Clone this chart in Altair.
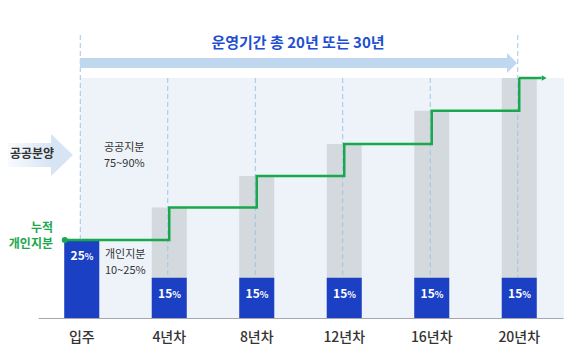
import altair as alt
import pandas as pd

# ---- data ----
categories = ["입주", "4년차", "8년차", "12년차", "16년차", "20년차"]
private_share = [25, 15, 15, 15, 15, 15]            # label (%) of each private purchase
bar_height = [32.5, 16.8, 16.8, 16.8, 16.8, 16.8]    # displayed height of the blue bars
cumulative = [32.5, 46.0, 59.2, 72.5, 86.4, 100.0]   # displayed cumulative private share

title_text = "운영기간 총 20년 또는 30년"
FONT = "Noto Sans CJK KR"

df = pd.DataFrame({
    "cat": categories,
    "share": private_share,
    "num": [str(v) for v in private_share],
    "blue": bar_height,
    "cum": cumulative,
})
one = pd.DataFrame({"k": [0]})

W, H = 525, 240
BLUE = "#1c40c4"
GREEN = "#1aa84c"
GRAY = "#d4d9dd"
BG = "#eef3fa"
DASH = "#9ec5ea"

xs = alt.X("cat:N", sort=categories,
           scale=alt.Scale(paddingInner=0.6, paddingOuter=0.3),
           axis=alt.Axis(title=None, labelAngle=0, ticks=False, domainColor="#a4a8ad",
                         domainWidth=1, labelFont=FONT, labelFontSize=14, labelColor="#333333",
                         labelFontWeight=500, labelPadding=12))
ys = alt.Y("blue:Q", scale=alt.Scale(domain=[0, 100]), axis=None)

base = alt.Chart(df)

background = alt.Chart(one).mark_rect(color=BG).encode(
    x=alt.value(42), x2=alt.value(W + 1), y=alt.value(0), y2=alt.value(H))

gray = base.mark_bar(color=GRAY).encode(x=xs, y=alt.Y("cum:Q", scale=alt.Scale(domain=[0, 100]), axis=None))

rules_mid = base.transform_filter(
    alt.FieldOneOfPredicate(field="cat", oneOf=categories[1:-1])
).mark_rule(color=DASH, strokeDash=[5, 3], strokeWidth=1, xOffset=-1.5).encode(
    x=xs, y=alt.value(0), y2=alt.value(H))

rules_end = base.transform_filter(
    alt.FieldOneOfPredicate(field="cat", oneOf=[categories[0], categories[-1]])
).mark_rule(color=DASH, strokeDash=[5, 3], strokeWidth=1, xOffset=-1.5).encode(
    x=xs, y=alt.value(-43), y2=alt.value(H))

blue = base.mark_bar(color=BLUE).encode(x=xs, y=ys)

num_text = base.mark_text(font=FONT, fontSize=12, fontWeight="bold", color="white",
                          align="right", baseline="middle", dx=3, dy=16).encode(
    x=xs, y=ys, text="num:N")
pct_text = base.mark_text(font=FONT, fontSize=9, fontWeight="bold", color="white",
                          align="left", baseline="middle", dx=3, dy=17).encode(
    x=xs, y=ys, text=alt.value("%"))

ycum = alt.Y("cum:Q", scale=alt.Scale(domain=[0, 100]), axis=None)
line = base.mark_line(interpolate="step-after", color=GREEN, strokeWidth=2.5).encode(x=xs, y=ycum)
ext_left = base.transform_filter(alt.datum.cat == categories[0]).mark_tick(
    orient="horizontal", color=GREEN, size=17, thickness=2.5, xOffset=-8.5, opacity=1).encode(x=xs, y=ycum)
ext_right = base.transform_filter(alt.datum.cat == categories[-1]).mark_tick(
    orient="horizontal", color=GREEN, size=23, thickness=2.5, xOffset=11, opacity=1).encode(x=xs, y=ycum)
dot = base.transform_filter(alt.datum.cat == categories[0]).mark_point(
    shape="circle", filled=True, color=GREEN, size=36, opacity=1, xOffset=-17).encode(x=xs, y=ycum)
arrow_g = base.transform_filter(alt.datum.cat == categories[-1]).mark_point(
    shape="M-0.6,-0.7L0.6,0L-0.6,0.7Z", filled=True, color=GREEN, size=64, opacity=1,
    strokeWidth=0, xOffset=25).encode(x=xs, y=ycum)

# top period arrow and title
top_band = alt.Chart(one).mark_rect(color="#bfd8ef").encode(
    x=alt.value(42), x2=alt.value(469), y=alt.value(-20), y2=alt.value(-10))
top_head = alt.Chart(one).mark_point(
    shape="M-0.5,-1L0.5,0L-0.5,1Z", filled=True, color="#bfd8ef", size=400, opacity=1,
    strokeWidth=0).encode(x=alt.value(474), y=alt.value(-15))
title = alt.Chart(one).mark_text(font=FONT, fontSize=15, fontWeight="bold", color="#1e4fd0",
                                 align="center", baseline="middle").encode(
    x=alt.value(260), y=alt.value(-35), text=alt.value(title_text))

# left "공공분양" arrow
grad = alt.Gradient(gradient="linear",
                    stops=[alt.GradientStop(color="#ffffff", offset=0),
                           alt.GradientStop(color="#d6e4f4", offset=1)],
                    x1=0, x2=1, y1=0, y2=0)
left_body = alt.Chart(one).mark_rect(fill=grad).encode(
    x=alt.value(-38), x2=alt.value(14), y=alt.value(65), y2=alt.value(89))
left_head = alt.Chart(one).mark_point(
    shape="M-0.52,-1L0.52,0L-0.52,1Z", filled=True, color="#d6e4f4", size=1764, opacity=1,
    strokeWidth=0).encode(x=alt.value(24), y=alt.value(77))
left_text = alt.Chart(one).mark_text(font=FONT, fontSize=12, fontWeight="bold", color="#333333",
                                     align="center", baseline="middle").encode(
    x=alt.value(-6), y=alt.value(76), text=alt.value("공공분양"))

green_lbl1 = alt.Chart(one).mark_text(font=FONT, fontSize=12, fontWeight="bold", color=GREEN,
                                      align="right", baseline="middle").encode(
    x=alt.value(15), y=alt.value(150), text=alt.value("누적"))
green_lbl2 = alt.Chart(one).mark_text(font=FONT, fontSize=12, fontWeight="bold", color=GREEN,
                                      align="right", baseline="middle").encode(
    x=alt.value(15), y=alt.value(166), text=alt.value("개인지분"))

def note(txt, x, y):
    return alt.Chart(one).mark_text(font=FONT, fontSize=11, color="#333333",
                                    align="left", baseline="middle").encode(
        x=alt.value(x), y=alt.value(y), text=alt.value(txt))

notes = [note("공공지분", 66, 70), note("75~90%", 66, 86),
         note("개인지분", 67, 177), note("10~25%", 67, 193)]

chart = alt.layer(
    background, gray, rules_mid, rules_end, blue, num_text, pct_text,
    line, ext_left, ext_right, dot, arrow_g,
    top_band, top_head, title, left_body, left_head, left_text,
    green_lbl1, green_lbl2, *notes
).properties(
    width=W, height=H,
    autosize=alt.AutoSizeParams(type="none"),
    padding={"left": 30, "top": 70, "right": 7, "bottom": 31},
    background="white",
).configure_view(strokeWidth=0)

chart.save("out.html", embed_options={"renderer": "svg", "actions": False})
